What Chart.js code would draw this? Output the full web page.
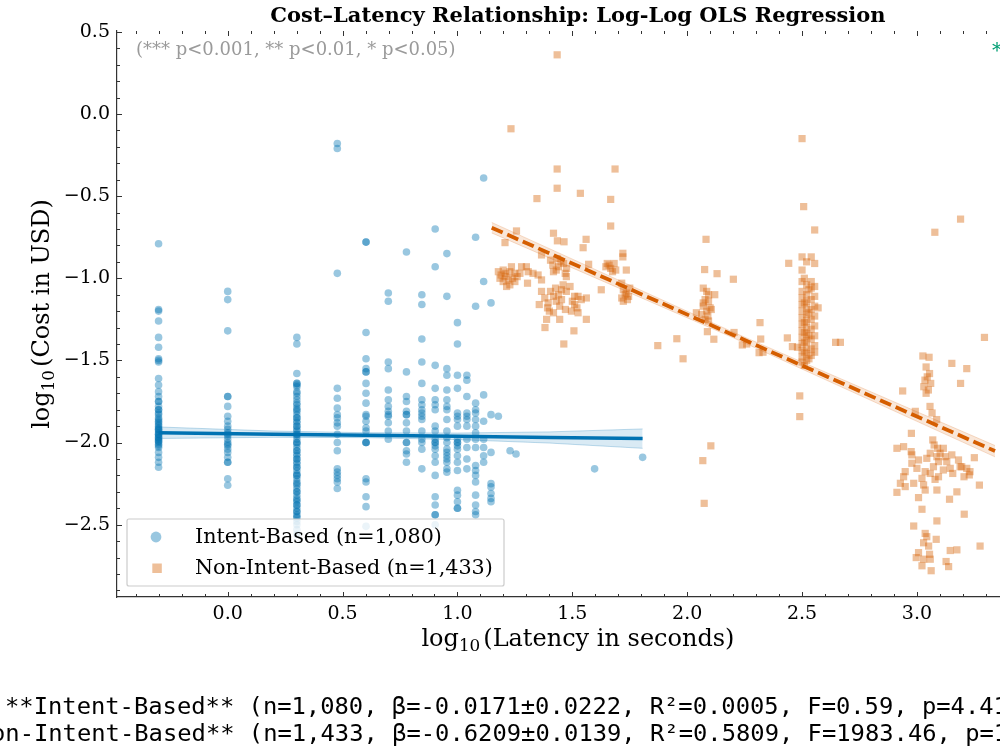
<!DOCTYPE html>
<html>
<head>
<meta charset="utf-8">
<script src="https://cdn.jsdelivr.net/npm/chart.js@4.4.1/dist/chart.umd.min.js"></script>
<style>
  html, body { margin: 0; padding: 0; background: #fff; overflow: hidden; }
  #wrap { width: 1000px; height: 750px; overflow: hidden; }
  canvas { display: block; }
</style>
</head>
<body>
<div id="wrap"><canvas id="chart" width="1044" height="750"></canvas></div>
<script>
// log10 latency columns for intent-based calls (1 s, 2 s, 3 s ...) and the log10 cost read at each one
const intentCols = [-0.301, 0, 0.301, 0.477, 0.602, 0.699, 0.778, 0.845, 0.903, 0.954, 1.0, 1.041, 1.079, 1.114, 1.146];
const intentYs = [
  [-0.79, -1.19, -1.20, -1.26, -1.36, -1.42, -1.49, -1.50, -1.51, -1.61, -1.65, -1.69, -1.72, -1.75, -1.75, -1.78, -1.80, -1.80, -1.82, -1.83, -1.85, -1.86, -1.87, -1.88, -1.89, -1.90, -1.91, -1.92, -1.92, -1.93, -1.94, -1.95, -1.95, -1.96, -1.97, -1.97, -1.98, -1.99, -1.99, -2.00, -2.01, -2.02, -2.03, -2.06, -2.09, -2.12, -2.15],
  [-1.08, -1.13, -1.32, -1.72, -1.72, -1.78, -1.84, -1.87, -1.90, -1.92, -1.94, -1.95, -1.96, -1.98, -2.00, -2.01, -2.02, -2.04, -2.06, -2.09, -2.12, -2.12, -2.22, -2.26],
  [-1.36, -1.40, -1.58, -1.64, -1.64, -1.65, -1.66, -1.69, -1.70, -1.72, -1.74, -1.76, -1.77, -1.79, -1.80, -1.81, -1.83, -1.85, -1.85, -1.87, -1.88, -1.90, -1.90, -1.92, -1.93, -1.95, -1.95, -1.96, -1.98, -2.00, -2.00, -2.01, -2.03, -2.05, -2.05, -2.07, -2.08, -2.10, -2.10, -2.12, -2.13, -2.15, -2.15, -2.17, -2.19, -2.20, -2.20, -2.22, -2.24, -2.25, -2.26, -2.28, -2.30, -2.30, -2.32, -2.34, -2.35, -2.36, -2.38, -2.38, -2.40, -2.42, -2.42, -2.44, -2.45, -2.46, -2.48, -2.50, -2.53, -2.56],
  [-0.18, -0.21, -0.97, -1.67, -1.73, -1.79, -1.83, -1.85, -1.88, -1.90, -1.95, -2.00, -2.05, -2.16, -2.18, -2.20, -2.22, -2.24, -2.28],
  [-0.78, -0.78, -1.33, -1.49, -1.55, -1.57, -1.57, -1.64, -1.70, -1.76, -1.83, -1.84, -1.87, -1.91, -1.93, -2.00, -2.00, -2.00, -2.22, -2.24, -2.33, -2.39, -2.51],
  [-1.09, -1.14, -1.51, -1.55, -1.68, -1.74, -1.78, -1.81, -1.83, -1.84, -1.88, -1.93, -1.98],
  [-0.84, -1.57, -1.72, -1.75, -1.81, -1.83, -1.83, -1.88, -1.93, -2.00, -2.00, -2.05, -2.07, -2.12],
  [-1.10, -1.16, -1.37, -1.51, -1.64, -1.74, -1.77, -1.80, -1.82, -1.84, -1.86, -1.93, -1.98, -2.00, -2.04, -2.16],
  [-0.70, -0.93, -1.53, -1.67, -1.74, -1.77, -1.80, -1.90, -1.93, -1.98, -2.00, -2.00, -2.02, -2.04, -2.08, -2.12, -2.20, -2.33, -2.38, -2.44, -2.44, -2.50],
  [-0.85, -1.11, -1.55, -1.59, -1.68, -1.74, -1.78, -1.80, -1.86, -1.93, -1.97, -2.00, -2.04, -2.06, -2.08, -2.10, -2.12, -2.16, -2.18],
  [-1.27, -1.40, -1.59, -1.67, -1.82, -1.84, -1.86, -1.90, -1.98, -2.00, -2.00, -2.02, -2.04, -2.08, -2.12, -2.17, -2.29, -2.32, -2.36, -2.40, -2.40],
  [-1.59, -1.62, -1.72, -1.82, -1.84, -1.86, -1.90, -1.98, -2.03, -2.10, -2.16],
  [-0.75, -1.17, -1.76, -1.80, -1.82, -1.86, -1.90, -1.94, -1.98, -2.03, -2.14, -2.17, -2.20, -2.24, -2.32, -2.38, -2.42, -2.44],
  [-0.39, -1.02, -1.71, -1.87, -1.98, -2.03, -2.08, -2.12],
  [-1.15, -1.83, -2.06, -2.25, -2.27, -2.31, -2.34, -2.36]
];
const intentExtra = [[1.178, -1.84], [1.229, -2.05], [1.255, -2.07], [1.597, -2.16], [1.806, -2.09]];

// non-intent-based calls [log10 latency, log10 cost]
const nonIntentPts = [
  [1.434, 0.36], [1.233, -0.09], [2.50, -0.15], [1.434, -0.335], [1.686, -0.335], [1.434, -0.452], [1.535, -0.483],
  [1.346, -0.515], [1.667, -0.52], [2.507, -0.564], [3.19, -0.64], [1.667, -0.682], [2.555, -0.706], [1.257, -0.712],
  [3.078, -0.72], [1.418, -0.726], [2.082, -0.763], [1.56, -0.763], [1.435, -0.772], [1.464, -0.778], [1.207, -0.783],
  [1.547, -0.814], [1.366, -0.858],
  [1.178, -0.96], [1.199, -0.95], [1.207, -0.99], [1.221, -1.01], [1.228, -1.04], [1.199, -1.02], [1.235, -0.93],
  [1.250, -0.97], [1.250, -1.02], [1.272, -0.97], [1.279, -0.93], [1.300, -0.93], [1.308, -0.96], [1.329, -0.97],
  [1.351, -0.98], [1.366, -1.01], [1.305, -1.03], [1.214, -1.05], [1.185, -1.00], [1.228, -0.96], [1.240, -1.00],
  [1.260, -0.99], [1.210, -0.97], [1.190, -0.98],
  [1.405, -0.89], [1.434, -0.88], [1.462, -0.91], [1.440, -0.93], [1.418, -0.96], [1.469, -0.97], [1.450, -0.90],
  [1.430, -0.95], [1.415, -0.92], [1.475, -0.94],
  [1.720, -0.848], [1.720, -0.87], [1.652, -0.91], [1.682, -0.91], [1.667, -0.94], [1.689, -0.95], [1.646, -0.93],
  [1.735, -0.95], [1.571, -0.915], [1.660, -0.92], [1.675, -0.96],
  [1.715, -1.03], [1.722, -1.07], [1.730, -1.10], [1.745, -1.11], [1.722, -1.14], [1.750, -1.06], [1.735, -1.09],
  [1.715, -1.12], [1.626, -1.07], [1.740, -1.13],
  [1.366, -1.08], [1.380, -1.12], [1.395, -1.15], [1.418, -1.11], [1.440, -1.10], [1.453, -1.07], [1.474, -1.08],
  [1.474, -0.99], [1.460, -1.04], [1.453, -1.13], [1.445, -1.17], [1.418, -1.21], [1.388, -1.25], [1.381, -1.30],
  [1.445, -1.25], [1.496, -1.20], [1.510, -1.11], [1.525, -1.11], [1.539, -1.13], [1.561, -1.12], [1.510, -1.16],
  [1.525, -1.21], [1.561, -1.25], [1.507, -1.32], [1.463, -1.40], [1.356, -1.16], [1.392, -1.18], [1.405, -1.08],
  [1.427, -1.06], [1.490, -1.05], [1.500, -1.14], [1.470, -1.19], [1.430, -1.14], [1.520, -1.18], [1.400, -1.20],
  [1.872, -1.41], [1.955, -1.368], [1.982, -1.49],
  [2.076, -0.947], [2.130, -0.972], [2.201, -1.006], [2.070, -1.06], [2.085, -1.08], [2.093, -1.10], [2.078, -1.13],
  [2.093, -1.14], [2.070, -1.17], [2.100, -1.18], [2.085, -1.20], [2.063, -1.22], [2.040, -1.21], [2.078, -1.25],
  [2.093, -1.26], [2.120, -1.10], [2.105, -1.19], [2.088, -1.325], [2.116, -1.371], [2.070, -1.15], [2.090, -1.23],
  [2.204, -1.33], [2.259, -1.40], [2.240, -1.406], [2.313, -1.453], [2.317, -1.27], [2.320, -1.37], [2.330, -1.45],
  [2.068, -2.11], [2.103, -2.02], [2.074, -2.37],
  [2.442, -0.909], [2.436, -1.363], [2.458, -1.416], [2.480, -1.42], [2.667, -1.39], [2.646, -1.39], [2.570, -1.18],
  [2.490, -1.716], [2.490, -1.842],
  [2.50, -0.87], [2.50, -0.95], [2.50, -1.02], [2.50, -1.08], [2.50, -1.12], [2.50, -1.16], [2.50, -1.20], [2.50, -1.24],
  [2.50, -1.28], [2.50, -1.32], [2.50, -1.36], [2.50, -1.40], [2.50, -1.44], [2.50, -1.48], [2.50, -1.51],
  [2.52, -0.90], [2.52, -1.04], [2.52, -1.10], [2.52, -1.14], [2.52, -1.18], [2.52, -1.22], [2.52, -1.26], [2.52, -1.30],
  [2.52, -1.34], [2.52, -1.38], [2.52, -1.42], [2.52, -1.46], [2.52, -1.50],
  [2.54, -0.87], [2.54, -1.02], [2.54, -1.06], [2.54, -1.13], [2.54, -1.19], [2.54, -1.25], [2.54, -1.31], [2.54, -1.37],
  [2.54, -1.43], [2.54, -1.47],
  [2.555, -0.91], [2.555, -1.05], [2.555, -1.11], [2.555, -1.17], [2.555, -1.23], [2.555, -1.29], [2.555, -1.35],
  [2.555, -1.41], [2.555, -1.45],
  [2.51, -1.00], [2.51, -1.15], [2.51, -1.27], [2.51, -1.33], [2.51, -1.39], [2.51, -1.45], [2.51, -1.53],
  [2.53, -1.07], [2.53, -1.21], [2.53, -1.35], [2.53, -1.49],
  [3.294, -1.36], [3.026, -1.473], [3.053, -1.481], [3.152, -1.518], [3.217, -1.55], [3.19, -1.64], [2.938, -1.686],
  [3.040, -1.54], [3.055, -1.58], [3.035, -1.62], [3.030, -1.66], [3.050, -1.68], [3.040, -1.70], [3.060, -1.64],
  [3.045, -1.60], [3.057, -1.78], [3.066, -1.82], [3.086, -1.86], [2.993, -1.81], [2.976, -1.944],
  [2.913, -2.035], [2.942, -2.025], [2.975, -2.055], [2.978, -2.075], [3.069, -1.984], [3.075, -2.015], [3.090, -2.035],
  [3.115, -2.035], [3.101, -2.065], [3.087, -2.086], [3.058, -2.065], [3.043, -2.096], [3.094, -2.116], [3.123, -2.086],
  [3.152, -2.075], [3.181, -2.106], [3.195, -2.147], [3.217, -2.157], [3.231, -2.177], [3.250, -2.092], [3.228, -2.197],
  [3.145, -2.157], [3.156, -2.188], [3.115, -2.167], [3.094, -2.208], [3.072, -2.147], [3.036, -2.177], [3.022, -2.218],
  [3.000, -2.157], [2.978, -2.126], [2.949, -2.177], [2.942, -2.208], [2.928, -2.248], [2.949, -2.268], [2.986, -2.248],
  [3.029, -2.258], [3.036, -2.289], [3.087, -2.289], [3.079, -2.224], [3.130, -2.116], [3.188, -2.147], [3.007, -2.106],
  [3.058, -2.188], [2.913, -2.303], [3.272, -2.259], [3.205, -2.208],
  [3.007, -2.335], [3.022, -2.406], [3.174, -2.30], [3.142, -2.345], [3.206, -2.436], [3.087, -2.477], [2.986, -2.508],
  [3.036, -2.553], [3.043, -2.573], [3.084, -2.589], [3.029, -2.61], [3.051, -2.63], [3.055, -2.68], [3.007, -2.67],
  [2.997, -2.70], [3.029, -2.71], [3.058, -2.71], [3.022, -2.75], [3.062, -2.78], [3.145, -2.657], [3.174, -2.653],
  [3.127, -2.724], [3.138, -2.755], [3.275, -2.63]
];

// OLS fits with 95% bands
const intentFitX = [-0.301, 0.2, 0.6, 1.0, 1.4, 1.806];
const intentFit = [-1.940, -1.949, -1.955, -1.962, -1.969, -1.976];
const intentUpper = [-1.905, -1.930, -1.940, -1.942, -1.935, -1.917];
const intentLower = [-1.975, -1.968, -1.970, -1.982, -2.003, -2.035];
const nonFitX = [1.149, 2.2, 3.34];
const nonFit = [-0.692, -1.345, -2.052];
const nonUpper = [-0.660, -1.328, -2.018];
const nonLower = [-0.724, -1.362, -2.087];

const xTicks = [0, 0.5, 1, 1.5, 2, 2.5, 3];
const yTicks = [-2.5, -2, -1.5, -1, -0.5, 0, 0.5];

const titleText = 'Cost\u2013Latency Relationship: Log-Log OLS Regression';
const sigNote = '(*** p<0.001, ** p<0.01, * p<0.05)';
const legendLabels = ['Intent-Based (n=1,080)', 'Non-Intent-Based (n=1,433)'];
const statLines = [
  '**Intent-Based** (n=1,080, \u03b2=-0.0171\u00b10.0222, R\u00b2=0.0005, F=0.59, p=4.41e-01)',
  '**Non-Intent-Based** (n=1,433, \u03b2=-0.6209\u00b10.0139, R\u00b2=0.5809, F=1983.46, p=1.2e-273***)'
];

const BLUE = '#0072B2', ORANGE = '#D55E00';
const blueDot = 'rgba(0,114,178,0.4)', orangeDot = 'rgba(213,94,0,0.4)';
const SERIF = '"DejaVu Serif", serif';

const intentPts = intentCols.flatMap((x, i) => intentYs[i].map(y => ({ x, y })))
  .concat(intentExtra.map(p => ({ x: p[0], y: p[1] })));
const nonPts = nonIntentPts.map(p => ({ x: p[0], y: p[1] }));
const toXY = (xs, ys) => xs.map((x, i) => ({ x, y: ys[i] }));

function mathLabel(ctx, text, x, y, size, align) {
  // draws "log" + subscript 10 + text, like matplotlib mathtext
  const big = size + 'px ' + SERIF, small = (size * 0.7).toFixed(1) + 'px ' + SERIF;
  ctx.font = big;
  const w1 = ctx.measureText('log').width, w3 = ctx.measureText(text).width;
  ctx.font = small;
  const w2 = ctx.measureText('10').width;
  const gap = 3;
  let x0 = align === 'center' ? x - (w1 + w2 + gap + w3) / 2 : x;
  ctx.textAlign = 'left';
  ctx.font = big; ctx.fillText('log', x0, y);
  ctx.font = small; ctx.fillText('10', x0 + w1, y + size * 0.22);
  ctx.font = big; ctx.fillText(text, x0 + w1 + w2 + gap, y);
}

const decor = {
  id: 'decor',
  afterDraw(chart) {
    const { ctx, chartArea: a, scales: { x, y } } = chart;
    ctx.save();

    // inward ticks, major and minor, on all four sides
    ctx.strokeStyle = '#333';
    ctx.lineWidth = 1;
    ctx.beginPath();
    for (let k = -5; k <= 36; k++) {
      const v = k / 10;
      if (v < x.min || v > x.max) continue;
      const len = k % 5 === 0 ? 5 : 3;
      const px = Math.round(x.getPixelForValue(v)) + 0.5;
      ctx.moveTo(px, a.bottom); ctx.lineTo(px, a.bottom - len);
      ctx.moveTo(px, a.top); ctx.lineTo(px, a.top + len);
    }
    for (let k = -30; k <= 6; k++) {
      const v = k / 10;
      if (v < y.min || v > y.max) continue;
      const len = k % 5 === 0 ? 5 : 3;
      const py = Math.round(y.getPixelForValue(v)) + 0.5;
      ctx.moveTo(a.left, py); ctx.lineTo(a.left + len, py);
      ctx.moveTo(a.right, py); ctx.lineTo(a.right - len, py);
    }
    ctx.stroke();

    // title and notes
    ctx.fillStyle = '#000';
    ctx.textBaseline = 'alphabetic';
    ctx.textAlign = 'center';
    ctx.font = 'bold 21px ' + SERIF;
    ctx.fillText(titleText, (a.left + a.right) / 2, 22);

    ctx.textAlign = 'left';
    ctx.font = '18px ' + SERIF;
    ctx.fillStyle = '#9a9a9a';
    ctx.fillText(sigNote, 136, 55);
    ctx.fillStyle = '#009E73';
    ctx.font = '20px ' + SERIF;
    ctx.fillText('***', 992, 57);

    // axis labels
    ctx.fillStyle = '#000';
    mathLabel(ctx, '(Latency in seconds)', (a.left + a.right) / 2, 646, 24, 'center');
    ctx.save();
    ctx.translate(49, (a.top + a.bottom) / 2);
    ctx.rotate(-Math.PI / 2);
    mathLabel(ctx, '(Cost in USD)', 0, 0, 24, 'center');
    ctx.restore();

    // legend
    ctx.fillStyle = 'rgba(255,255,255,0.8)';
    ctx.strokeStyle = '#cccccc';
    ctx.lineWidth = 1.2;
    ctx.beginPath();
    ctx.roundRect(127, 519, 377, 67, 2);
    ctx.fill(); ctx.stroke();
    ctx.fillStyle = blueDot;
    ctx.beginPath(); ctx.arc(156, 537, 5.4, 0, Math.PI * 2); ctx.fill();
    ctx.fillStyle = orangeDot;
    ctx.fillRect(152.3, 563.5, 9.5, 9.5);
    ctx.fillStyle = '#000';
    ctx.font = '20.7px ' + SERIF;
    ctx.fillText(legendLabels[0], 195, 543);
    ctx.fillText(legendLabels[1], 195, 574);

    // regression summary lines under the figure
    ctx.font = '23.8px "DejaVu Sans Mono", monospace';
    ctx.fillText(statLines[0], 5, 714);
    ctx.fillText(statLines[1], -52, 741);
    ctx.restore();
  }
};

const fmt = v => (Math.abs(v) < 1e-9 ? 0 : v).toFixed(1).replace('-', '\u2212');

new Chart(document.getElementById('chart'), {
  type: 'scatter',
  data: {
    datasets: [
      { label: legendLabels[0], data: intentPts, backgroundColor: blueDot, borderWidth: 0,
        pointStyle: 'circle', pointRadius: 3.8, order: 10 },
      { label: legendLabels[1], data: nonPts, backgroundColor: orangeDot, borderWidth: 0,
        pointStyle: 'rect', pointRadius: 5.1, order: 11 },
      { type: 'line', data: toXY(intentFitX, intentUpper), borderColor: 'rgba(0,114,178,0.25)', borderWidth: 1,
        backgroundColor: 'rgba(0,114,178,0.15)', fill: '+1', pointRadius: 0, order: 5 },
      { type: 'line', data: toXY(intentFitX, intentLower), borderColor: 'rgba(0,114,178,0.25)', borderWidth: 1,
        fill: false, pointRadius: 0, order: 5 },
      { type: 'line', data: toXY(intentFitX, intentFit), borderColor: BLUE, borderWidth: 3.5,
        fill: false, pointRadius: 0, order: 1 },
      { type: 'line', data: toXY(nonFitX, nonUpper), borderColor: 'rgba(213,94,0,0.2)', borderWidth: 1,
        backgroundColor: 'rgba(213,94,0,0.15)', fill: '+1', pointRadius: 0, order: 5 },
      { type: 'line', data: toXY(nonFitX, nonLower), borderColor: 'rgba(213,94,0,0.2)', borderWidth: 1,
        fill: false, pointRadius: 0, order: 5 },
      { type: 'line', data: toXY(nonFitX, nonFit), borderColor: ORANGE, borderWidth: 3.8, borderDash: [12, 5],
        fill: false, pointRadius: 0, order: 1 }
    ]
  },
  options: {
    responsive: false,
    devicePixelRatio: 1,
    animation: false,
    events: [],
    layout: { padding: { top: 31, left: 0, right: 2, bottom: 113 } },
    plugins: { legend: { display: false }, tooltip: { enabled: false }, title: { display: false } },
    scales: {
      x: {
        type: 'linear', min: -0.482, max: 3.531,
        grid: { display: false, drawTicks: false },
        border: { display: true, color: '#333', width: 1.2 },
        afterBuildTicks: s => { s.ticks = xTicks.map(v => ({ value: v })); },
        afterFit: s => { s.height = 40; },
        ticks: { padding: 6, color: '#000', font: { family: 'DejaVu Serif', size: 19 },
          maxRotation: 0, autoSkip: false, callback: v => fmt(v) }
      },
      y: {
        type: 'linear', min: -2.94, max: 0.505,
        grid: { display: false, drawTicks: false },
        border: { display: true, color: '#333', width: 1.2 },
        afterBuildTicks: s => { s.ticks = yTicks.map(v => ({ value: v })); },
        afterFit: s => { s.width = 117; },
        ticks: { padding: 7, color: '#000', font: { family: 'DejaVu Serif', size: 19 },
          autoSkip: false, callback: v => fmt(v) }
      }
    }
  },
  plugins: [decor]
});
</script>
</body>
</html>
